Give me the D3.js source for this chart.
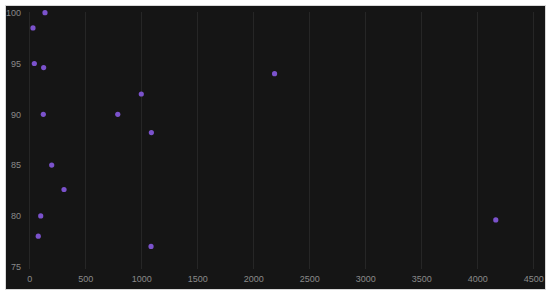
<!DOCTYPE html>
<html>
<head>
<meta charset="utf-8">
<script src="https://cdn.jsdelivr.net/npm/d3@7"></script>
<style>
  body { margin: 0; background: #fff; }
  svg text { font-family: "Liberation Sans", Arial, sans-serif; }
</style>
</head>
<body>
<div id="chart"></div>
<script>
// data
const xValues = [140, 33, 45, 128, 1000, 125, 790, 1090, 200, 310, 102, 80, 1087, 2190, 4165];
const yValues = [100, 98.5, 95, 94.6, 92.0, 90, 90, 88.2, 85, 82.6, 80, 78.0, 77.0, 94.0, 79.6];
const xTicks = [0, 500, 1000, 1500, 2000, 2500, 3000, 3500, 4000, 4500];
const yTicks = [75, 80, 85, 90, 95, 100];

const points = xValues.map((x, i) => ({x: x, y: yValues[i]}));

const width = 550, height = 295;
const svg = d3.select("#chart")
              .append("svg")
              .attr("width", width)
              .attr("height", height);

// dark panel
svg.append("rect")
   .attr("x", 5.5)
   .attr("y", 5.5)
   .attr("width", 540)
   .attr("height", 284)
   .attr("fill", "#151515")
   .attr("stroke", "#d8d8d8")
   .attr("stroke-width", 1);

const xScale = d3.scaleLinear()
                 .domain([0, 4500])
                 .range([29.3, 533.3]);
const yScale = d3.scaleLinear()
                 .domain([75, 100])
                 .range([266.7, 12.7]);

// vertical grid lines
svg.append("g")
   .selectAll("line")
   .data(xTicks)
   .join("line")
   .attr("x1", d => Math.round(xScale(d)) + 0.5)
   .attr("x2", d => Math.round(xScale(d)) + 0.5)
   .attr("y1", 12)
   .attr("y2", 269)
   .attr("stroke", "#262626")
   .attr("stroke-width", 1);

// x axis labels
const xAxis = d3.axisBottom(xScale)
                .tickValues(xTicks)
                .tickFormat(d3.format("d"))
                .tickSize(0)
                .tickPadding(0);
svg.append("g")
   .attr("transform", "translate(0,276)")
   .call(xAxis)
   .call(g => g.select(".domain").remove())
   .call(g => g.selectAll("text")
               .attr("fill", "#8a8a8a")
               .style("font-size", "9px"));

// y axis labels
const yAxis = d3.axisLeft(yScale)
                .tickValues(yTicks)
                .tickSize(0)
                .tickPadding(0);
svg.append("g")
   .attr("transform", "translate(21,0)")
   .call(yAxis)
   .call(g => g.select(".domain").remove())
   .call(g => g.selectAll("text")
               .attr("fill", "#8a8a8a")
               .style("font-size", "9px"));

// points
svg.append("g")
   .selectAll("circle")
   .data(points)
   .join("circle")
   .attr("cx", d => xScale(d.x))
   .attr("cy", d => yScale(d.y))
   .attr("r", 2.6)
   .attr("fill", "#7b52cc");
</script>
</body>
</html>
